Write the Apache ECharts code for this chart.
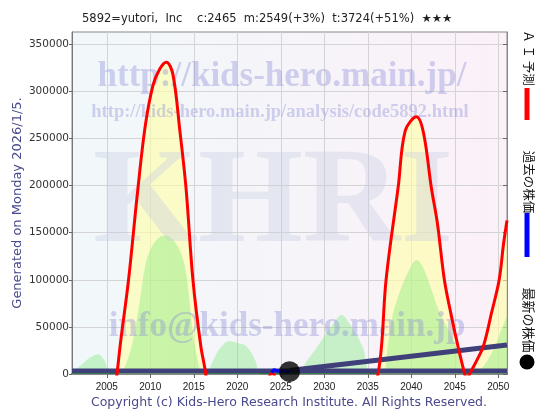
<!DOCTYPE html>
<html><head><meta charset="utf-8">
<script src="https://cdn.jsdelivr.net/npm/echarts@6/dist/echarts.min.js"></script>
<style>html,body{margin:0;padding:0;background:#fff}#c{width:560px;height:420px}</style>
</head><body><div id="c"></div>
<script>
const titleText = '5892=yutori,  Inc    c:2465  m:2549(+3%)  t:3724(+51%)  ★★★';
const generatedText = 'Generated on Monday 2026/1/5.';
const copyrightText = 'Copyright (c) Kids-Hero Research Institute. All Rights Reserved.';
const legendNames = ['ＡＩ予測', '過去の株価', '最新の株価'];
const xTicks = [2005, 2010, 2015, 2020, 2025, 2030, 2035, 2040, 2045, 2050];
const yTicks = [0, 50000, 100000, 150000, 200000, 250000, 300000, 350000];

const aiForecast = [
  [2001,-100000],[2003,-160000],[2005,-90000],[2006.17,0],[2006.6,35000],[2007.5,100000],
  [2008.5,190000],[2009.4,262000],[2010.3,306000],[2011.1,324000],[2011.85,331000],[2012.6,318000],
  [2013.4,258000],[2014.1,198000],[2014.9,100000],[2015.8,30000],[2016.37,0],[2017,-60000],[2019,-100000],
  [2021,-60000],[2023,-15000],[2024,500],[2025,-20000],[2028,-80000],[2031,-110000],[2034,-60000],[2035.5,-20000],
  [2036.17,0],[2036.6,32000],[2037.1,100000],[2038.5,199000],[2039.3,258000],[2040.6,273000],[2041.4,256000],
  [2042.3,198000],[2043.0,160000],[2043.8,100000],[2044.6,62000],[2045.4,28000],[2046.14,0],[2046.4,-6000],
  [2046.7,0],[2047.5,14000],[2048.3,30000],[2049.2,64000],[2050.1,100000],[2050.6,138000],[2051,163000]
];
const greenBand = [
  [2001,2000],[2002,9000],[2003,17000],[2004,21000],[2004.7,15000],[2005.4,0],[2006.3,0],[2007,6000],
  [2008,35000],[2008.8,78000],[2009.4,114000],[2010,132000],[2011,145000],[2011.9,147000],[2012.8,140000],
  [2013.4,131000],[2014,113000],[2014.5,78000],[2014.9,43000],[2015.5,12000],[2016.05,0],[2016.6,0],
  [2017,10000],[2018,27000],[2019.1,35000],[2020,33000],[2021,30000],[2022,16000],[2022.8,0],[2026.5,0],
  [2027.2,3000],[2028,14000],[2029.2,29000],[2030,40000],[2031,53000],[2032,62600],[2033,52000],[2034.4,29000],
  [2035.4,0],[2036.7,0],[2037.3,30000],[2037.9,64000],[2039,95000],[2040,115000],[2040.6,121000],[2041.3,114000],
  [2042.3,90000],[2043.3,64000],[2044.5,43000],[2045.3,25000],[2046.1,0],[2047.2,0],[2048,5000],[2049,18000],
  [2050,38000],[2051,62000]
];
const pastPrice = [[2023.95,1500],[2024.2,4500],[2024.5,3800],[2025,3000],[2025.5,2800],[2026,2465]];
const latestPrice = [[2026,2465]];
const baseLine = [[2001,3200],[2051,3200]];
const trendLine = [[2026,3700],[2051,30800]];

const chart = echarts.init(document.getElementById('c'), null, {renderer:'canvas'});
const navy = '#3f3f7a';
const wm = 'rgba(140,140,215,0.38)';
const plain = v => String(v);
const option = {
  animation: false,
  backgroundColor: '#ffffff',
  grid: {left: 72, right: 53, top: 32, bottom: 46, show: true, borderColor: '#888', borderWidth: 1,
    backgroundColor: new echarts.graphic.LinearGradient(0,0,1,0,[{offset:0,color:'#f1f8fa'},{offset:1,color:'#fbf1f8'}])},
  xAxis: [{
    type: 'value', min: 2001, max: 2051, position: 'bottom',
    axisLine: {show: true, onZero: false, lineStyle: {color: '#10a010', width: 2}},
    axisTick: {show: false, customValues: xTicks},
    axisLabel: {customValues: xTicks, formatter: plain, color: '#222', fontSize: 10, fontFamily: 'Liberation Sans', margin: 8},
    splitLine: {show: true, lineStyle: {color: '#d4d4d4', width: 1}}
  },{
    type: 'value', min: 2001, max: 2051, position: 'top',
    axisLine: {show: true, lineStyle: {color: '#888', width: 1}},
    axisTick: {show: true, inside: true, length: 4, customValues: xTicks, lineStyle: {color: '#666'}},
    axisLabel: {show: false}, splitLine: {show: false}
  }],
  yAxis: [{
    type: 'value', min: 0, max: 363000, interval: 50000,
    axisLine: {show: true, lineStyle: {color: '#777'}},
    axisTick: {show: true, length: 3, customValues: yTicks, lineStyle: {color: '#666'}},
    axisLabel: {customValues: yTicks, formatter: plain, color: '#333', fontSize: 10.5, fontFamily: 'DejaVu Sans', margin: 3},
    splitLine: {show: true, lineStyle: {color: '#d4d4d4', width: 1}}
  },{
    type: 'value', min: 0, max: 363000, position: 'right',
    axisLine: {show: true, lineStyle: {color: '#888'}},
    axisTick: {show: true, inside: true, length: 4, customValues: yTicks, lineStyle: {color: '#666'}},
    axisLabel: {show: false}, splitLine: {show: false}
  }],
  series: [
    {name: 'aiArea', type: 'line', data: aiForecast, smooth: 0.35, symbol: 'none', z: 1,
      lineStyle: {width: 0}, areaStyle: {color: 'rgba(255,255,165,0.85)'}},
    {name: 'green', type: 'line', data: greenBand, smooth: 0.35, symbol: 'none', z: 2,
      lineStyle: {width: 0}, areaStyle: {color: 'rgba(110,232,110,0.5)'}},
    {name: 'base', type: 'line', data: baseLine, symbol: 'none', z: 4, lineStyle: {color: navy, width: 5}},
    {name: 'trend', type: 'line', data: trendLine, symbol: 'none', z: 4, lineStyle: {color: navy, width: 5}},
    {name: legendNames[0], type: 'line', data: aiForecast, smooth: 0.35, symbol: 'none', z: 6,
      lineStyle: {color: '#ff0000', width: 3}},
    {name: legendNames[1], type: 'line', data: pastPrice, symbol: 'none', z: 7, lineStyle: {color: '#0000ff', width: 3}},
    {name: legendNames[2], type: 'scatter', data: latestPrice, symbol: 'circle', symbolSize: 21, z: 8,
      itemStyle: {color: '#000'}}
  ],
  graphic: [
    {type: 'text', x: 82, y: 19, z: 10, style: {text: titleText, fill: '#222', font: '11.5px "DejaVu Sans"', textVerticalAlign: 'middle'}},
    {type: 'text', x: 18, y: 203, rotation: Math.PI/2, z: 10, style: {text: generatedText, fill: '#4a4a8c', font: '13px "DejaVu Sans"', textAlign: 'center', textVerticalAlign: 'middle'}},
    {type: 'text', x: 289, y: 403, z: 10, style: {text: copyrightText, fill: '#4a4a8c', font: '12.5px "DejaVu Sans"', textAlign: 'center', textVerticalAlign: 'middle'}},
    {type: 'text', x: 529, y: 58, rotation: -Math.PI/2, z: 10, style: {text: 'Ａ Ｉ 予測', fill: '#111', font: '12.5px "Noto Sans CJK JP"', textAlign: 'center', textVerticalAlign: 'middle'}},
    {type: 'rect', shape: {x: 524.5, y: 88, width: 5, height: 32}, z: 10, style: {fill: '#ff0000'}},
    {type: 'text', x: 529, y: 182, rotation: -Math.PI/2, z: 10, style: {text: '過去の株価', fill: '#111', font: '12.5px "Noto Sans CJK JP"', textAlign: 'center', textVerticalAlign: 'middle'}},
    {type: 'rect', shape: {x: 524.5, y: 213, width: 5, height: 44}, z: 10, style: {fill: '#0000ff'}},
    {type: 'text', x: 529, y: 320, rotation: -Math.PI/2, z: 10, style: {text: '最新の株価', fill: '#111', font: '13px "Noto Sans CJK JP"', textAlign: 'center', textVerticalAlign: 'middle'}},
    {type: 'circle', shape: {cx: 527, cy: 362, r: 7.5}, z: 10, style: {fill: '#000'}},
    {type: 'text', x: 282, y: 77, z: 3, style: {text: 'http://kids-hero.main.jp/', fill: wm, font: 'bold 35px "Liberation Serif"', textAlign: 'center', textVerticalAlign: 'middle'}},
    {type: 'text', x: 280, y: 112, z: 3, style: {text: 'http://kids-hero.main.jp/analysis/code5892.html', fill: wm, font: 'bold 18.5px "Liberation Serif"', textAlign: 'center', textVerticalAlign: 'middle'}},
    {type: 'text', x: 273, y: 206, z: 3, style: {text: 'KHRI', font: 'bold 135px "Liberation Serif"', textAlign: 'center', textVerticalAlign: 'middle',
      fill: 'rgba(200,205,225,0.38)'}},
    {type: 'text', x: 287, y: 327, z: 3, style: {text: 'info@kids-hero.main.jp', fill: wm, font: 'bold 35px "Liberation Serif"', textAlign: 'center', textVerticalAlign: 'middle'}}
  ]
};
chart.setOption(option);
</script></body></html>
